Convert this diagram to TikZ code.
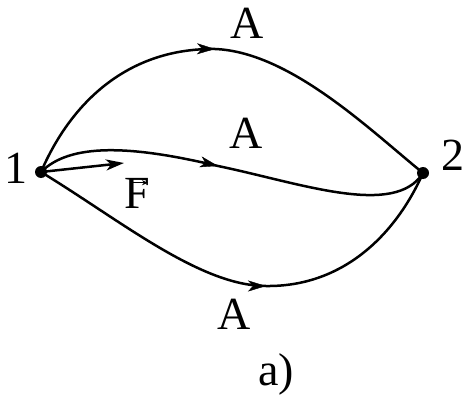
\documentclass[tikz,border=0pt]{standalone}
\usepackage{fontspec}
\setmainfont{Liberation Serif}
\usetikzlibrary{arrows.meta,decorations.markings}
\begin{document}
\begin{tikzpicture}[x=1pt,y=-1pt,
  pathline/.style={line width=2.5pt},
  tipend/.style={decorate,decoration={markings,mark=at position 0.9999 with {\arrow{Stealth[length=18pt,width=11pt,inset=5pt]}}}},
  arrowpath/.style={pathline,-{Stealth[length=18pt,width=11pt,inset=5pt]}},
  dot/.style={circle,fill=black,inner sep=0pt,minimum size=12pt},
  lbl/.style={inner sep=0pt,font=\fontsize{46}{46}\selectfont}]
\useasboundingbox (0,0) rectangle (466,396);
\node[dot] (p1) at (41,172) {};
\node[dot] (p2) at (423,173) {};
\node[lbl] (l1) at (16,168) {1};
\node[lbl] (l2) at (453,155) {2};
\coordinate (tA) at (215,49);
\coordinate (mA) at (218,166);
\coordinate (bA) at (266,286);
\coordinate (fA) at (124,163);
% top path
\draw[pathline] (p1.center) .. controls (72,100) and (130,48) .. (tA)
  .. controls (290,52) and (370,130) .. (p2.center);
\path[tipend] (p1.center) .. controls (72,100) and (130,48) .. (tA);
% middle path
\draw[pathline] (p1.center) .. controls (70,143) and (130,145) .. (mA)
  .. controls (300,183) and (395,218) .. (p2.center);
\path[tipend] (p1.center) .. controls (70,143) and (130,145) .. (mA);
% bottom path
\draw[pathline] (p1.center) .. controls (120,220) and (200,286) .. (bA)
  .. controls (345,287) and (397,232) .. (p2.center);
\path[tipend] (p1.center) .. controls (120,220) and (200,286) .. (bA);
% force
\draw[arrowpath] (p1.center) -- (fA);
\node[lbl] (F) at (137,193) {F};
\draw[line width=1.2pt,-{Stealth[length=6pt,width=5pt]}] ([xshift=-4pt,yshift=-5pt]F.north) -- ([xshift=11pt,yshift=-5pt]F.north);
% labels
\node[lbl] (at) at (247,23) {A};
\node[lbl] (am) at (246,133) {A};
\node[lbl] (ab) at (234,314) {A};
\node[lbl] (cap) at (276,374) {a)};
\end{tikzpicture}
\end{document}
